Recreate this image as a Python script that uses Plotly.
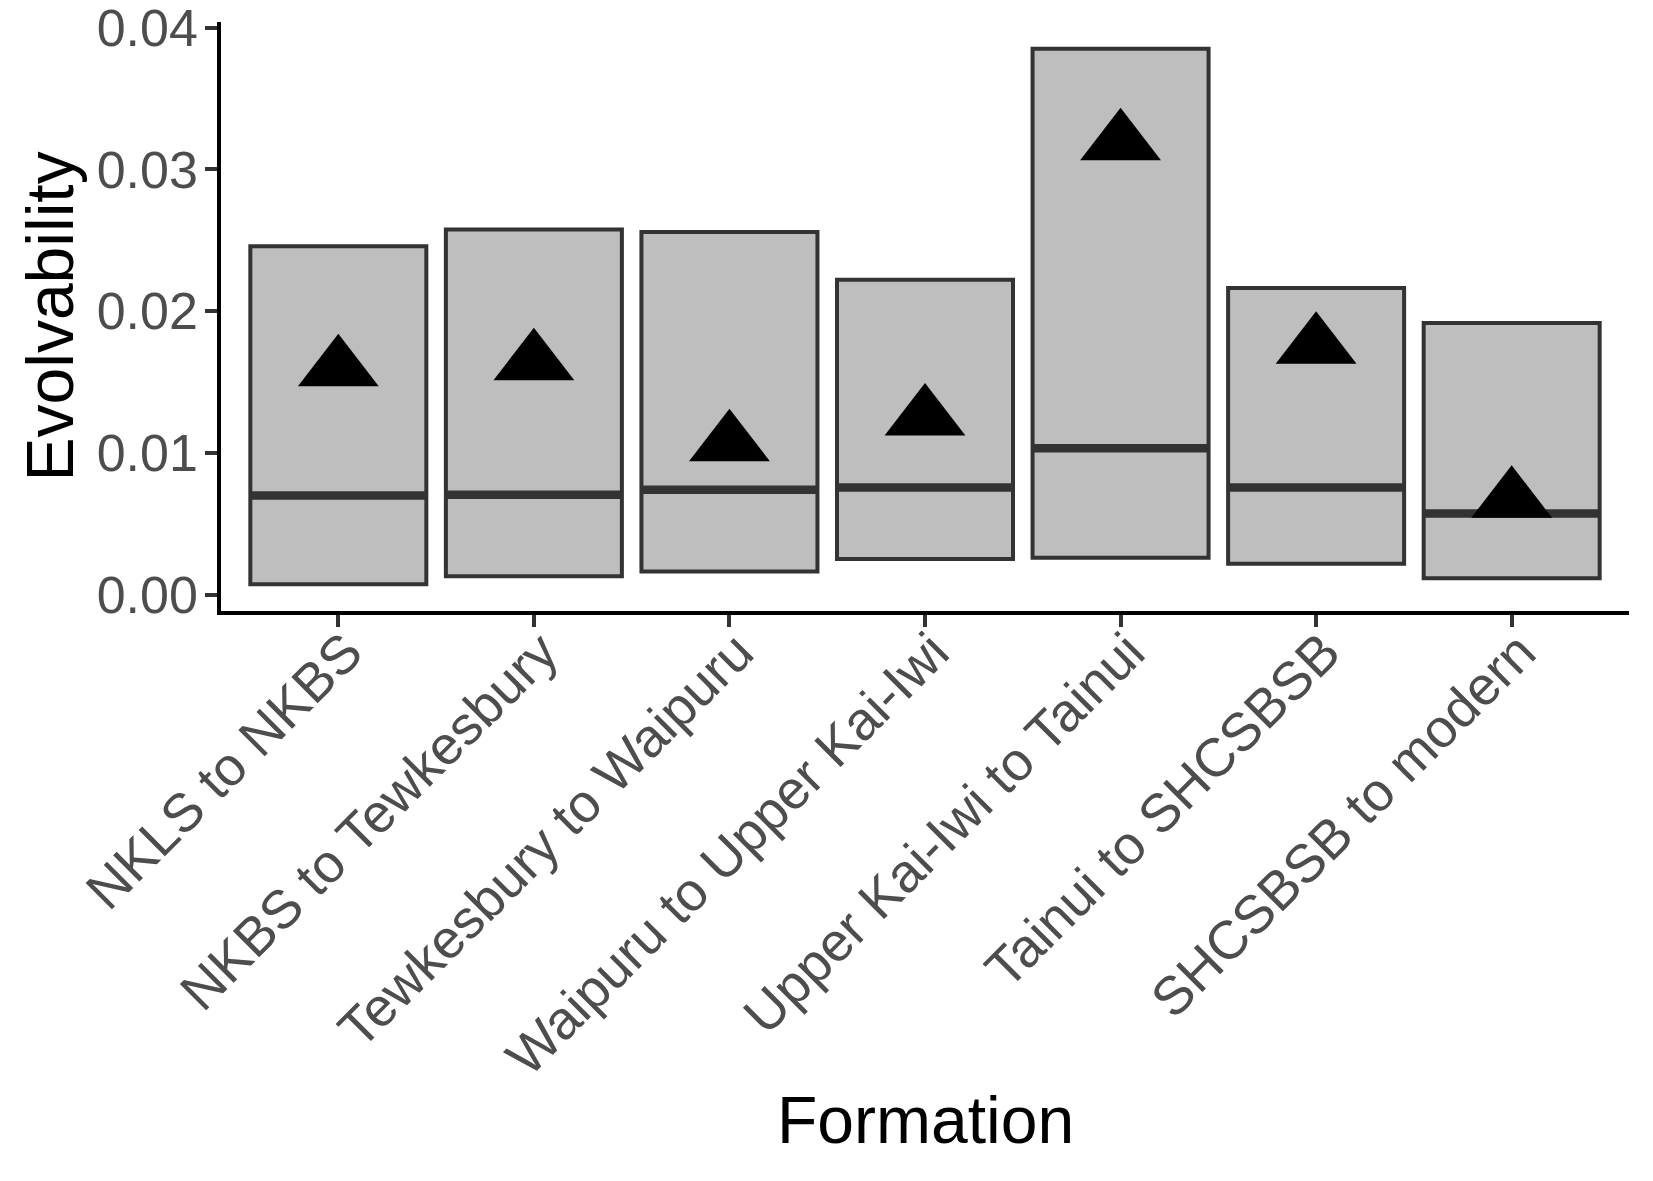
import plotly.graph_objects as go

formations = ["NKLS to NKBS", "NKBS to Tewkesbury", "Tewkesbury to Waipuru",
              "Waipuru to Upper Kai-Iwi", "Upper Kai-Iwi to Tainui",
              "Tainui to SHCSBSB", "SHCSBSB to modern"]
lower = [0.00075, 0.00132, 0.00165, 0.00253, 0.00262, 0.00219, 0.00118]
median = [0.00700, 0.00705, 0.00741, 0.00757, 0.01033, 0.00757, 0.00573]
upper = [0.02458, 0.02576, 0.02559, 0.02222, 0.03850, 0.02164, 0.01917]
point = [0.01595, 0.01637, 0.01066, 0.01247, 0.03187, 0.01753, 0.00667]
y_ticks = [0.00, 0.01, 0.02, 0.03, 0.04]

pos = list(range(1, len(formations) + 1))
half_w = 0.45

W, H = 1653, 1181
L, R, T, B = 221, 24, 22, 570

fig = go.Figure()
fig.add_trace(go.Bar(
    x=pos, y=[u - l for u, l in zip(upper, lower)], base=lower, width=0.9,
    marker=dict(color="#BEBEBE", line=dict(color="#333333", width=4)),
    showlegend=False, hoverinfo="skip"))

mx, my = [], []
for p, m in zip(pos, median):
    mx += [p - half_w, p + half_w, None]
    my += [m, m, None]
fig.add_trace(go.Scatter(x=mx, y=my, mode="lines",
                         line=dict(color="#333333", width=8.5),
                         showlegend=False, hoverinfo="skip"))

fig.add_trace(go.Scatter(x=pos, y=point, mode="markers",
                         marker=dict(symbol="triangle-up", size=70, color="black",
                                     line=dict(width=0)),
                         showlegend=False))

lo = min(lower); hi = max(upper); rng = hi - lo
font_family = "Liberation Sans, Arial, sans-serif"

fig.update_layout(
    width=W, height=H, margin=dict(l=L, r=R, t=T, b=B, autoexpand=False),
    paper_bgcolor="white", plot_bgcolor="white",
    font=dict(family=font_family, color="#4D4D4D", size=51),
    xaxis=dict(range=[0.4, len(formations) + 0.6], tickvals=pos, ticktext=formations,
               tickangle=-45, showgrid=False, zeroline=False, showline=True,
               linecolor="black", linewidth=3.5, ticks="outside", ticklen=12,
               tickwidth=3.5, tickcolor="#333333",
               ticklabelstandoff=-28, ticklabelshift=8, ticklabeloverflow="allow",
               tickfont=dict(size=54, color="#4D4D4D", family=font_family),
               automargin=False),
    yaxis=dict(range=[lo - 0.05 * rng, hi + 0.05 * rng], tickvals=y_ticks,
               ticktext=[f"{v:.2f}" for v in y_ticks],
               showgrid=False, zeroline=False, showline=True,
               linecolor="black", linewidth=3.5, ticks="outside", ticklen=12,
               tickwidth=3.5, tickcolor="#333333", ticklabeloverflow="allow",
               ticklabelstandoff=-3,
               tickfont=dict(size=52, color="#4D4D4D", family=font_family),
               automargin=False),
    annotations=[
        dict(text="Formation", xref="paper", yref="paper", x=0.5,
             y=(H - B - 1120) / (H - T - B), xanchor="center", yanchor="middle",
             showarrow=False, font=dict(size=66, color="black", family=font_family)),
        dict(text="Evolvability", xref="paper", yref="paper",
             x=(49 - L) / (W - L - R), y=0.5, xanchor="center", yanchor="middle",
             textangle=-90, showarrow=False,
             font=dict(size=66, color="black", family=font_family)),
    ],
)

fig.write_html("out.html")
